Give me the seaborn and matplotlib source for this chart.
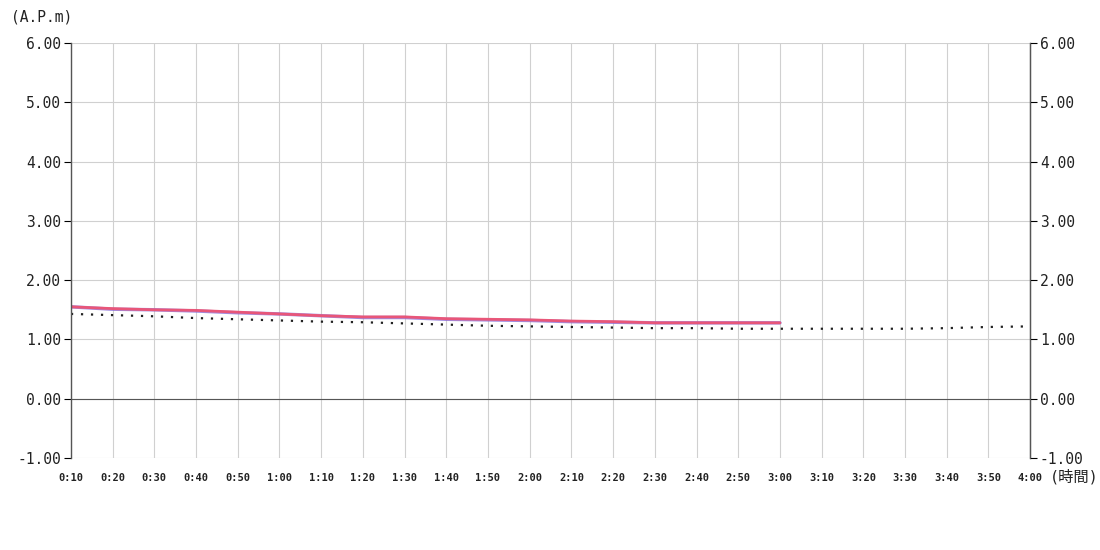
import numpy as np
import pandas as pd
import seaborn as sns
import matplotlib.pyplot as plt

sns.set_style("white")
plt.rcParams['font.family'] = ['DejaVu Sans Mono', 'Noto Sans CJK JP']

# minutes from start
MINUTES = [10, 20, 30, 40, 50, 60, 70, 80, 90, 100, 110, 120, 130, 140, 150, 160, 170, 180,
           190, 200, 210, 220, 230, 240]
TICK_LABELS = ["0:10", "0:20", "0:30", "0:40", "0:50", "1:00", "1:10", "1:20", "1:30", "1:40",
               "1:50", "2:00", "2:10", "2:20", "2:30", "2:40", "2:50", "3:00", "3:10", "3:20",
               "3:30", "3:40", "3:50", "4:00"]
RED_VALUES = [1.55, 1.52, 1.50, 1.49, 1.46, 1.43, 1.40, 1.38, 1.38, 1.35, 1.34, 1.33,
              1.31, 1.30, 1.28, 1.28, 1.28, 1.28]
BLUE_VALUES = [1.55, 1.51, 1.50, 1.48, 1.45, 1.43, 1.40, 1.37, 1.37, 1.34, 1.33, 1.32,
               1.30, 1.29, 1.28, 1.28, 1.28, 1.28]
DOTTED_VALUES = [1.43, 1.41, 1.39, 1.36, 1.34, 1.32, 1.30, 1.29, 1.27, 1.25, 1.23, 1.22,
                 1.21, 1.20, 1.19, 1.19, 1.18, 1.18, 1.18, 1.18, 1.18, 1.19, 1.21, 1.22]
Y_TICKS = [-1, 0, 1, 2, 3, 4, 5, 6]

fig = plt.figure(figsize=(11, 5.5), dpi=100)
ax = fig.add_axes([0.0645, 0.1673, 0.872, 0.7545])

n = len(RED_VALUES)
sns.lineplot(x=MINUTES[:n], y=BLUE_VALUES, ax=ax, color="#8a6fd8", linewidth=2.5, alpha=0.8)
sns.lineplot(x=MINUTES[:n], y=RED_VALUES, ax=ax, color="#f0506e", linewidth=2, alpha=0.9)
sns.lineplot(x=MINUTES, y=DOTTED_VALUES, ax=ax, color="#222222", linewidth=1.6,
             linestyle=(0, (1, 3.5)))

ax.axhline(0, color="#555555", linewidth=0.8, zorder=1)

ax.set_xlim(10, 240)
ax.set_ylim(-1, 6)
ax.set_xticks(MINUTES)
ax.set_xticklabels(TICK_LABELS, fontsize=7.5, fontweight="bold", color="#222222")
ax.set_yticks(Y_TICKS)
ax.set_yticklabels([f"{v:.2f}" for v in Y_TICKS], fontsize=10.5, color="#222222")
ax.grid(True, color="#d0d0d0", linewidth=0.8)
ax.set_axisbelow(True)

ax.tick_params(axis="x", direction="in", length=5, color="black", pad=11)
ax.tick_params(axis="y", direction="out", length=5, color="black", left=True, pad=2)

for side in ["top", "bottom"]:
    ax.spines[side].set_visible(False)
for side in ["left", "right"]:
    ax.spines[side].set_color("#555555")
    ax.spines[side].set_linewidth(1)

ax2 = ax.twinx()
ax2.set_ylim(-1, 6)
ax2.set_yticks(Y_TICKS)
ax2.set_yticklabels([f"{v:.2f}" for v in Y_TICKS], fontsize=10.5, color="#222222")
ax2.tick_params(axis="y", direction="out", length=5, color="black", right=True, pad=2)
for side in ["top", "bottom", "left"]:
    ax2.spines[side].set_visible(False)
ax2.spines["right"].set_color("#555555")

fig.text(0.01, 0.955, "(A.P.m)", fontsize=10.5, color="#222222", ha="left", va="bottom")
fig.text(0.954, 0.133, "(時間)", fontsize=11, color="#222222", ha="left", va="center")

plt.savefig("out.png", dpi=100)
